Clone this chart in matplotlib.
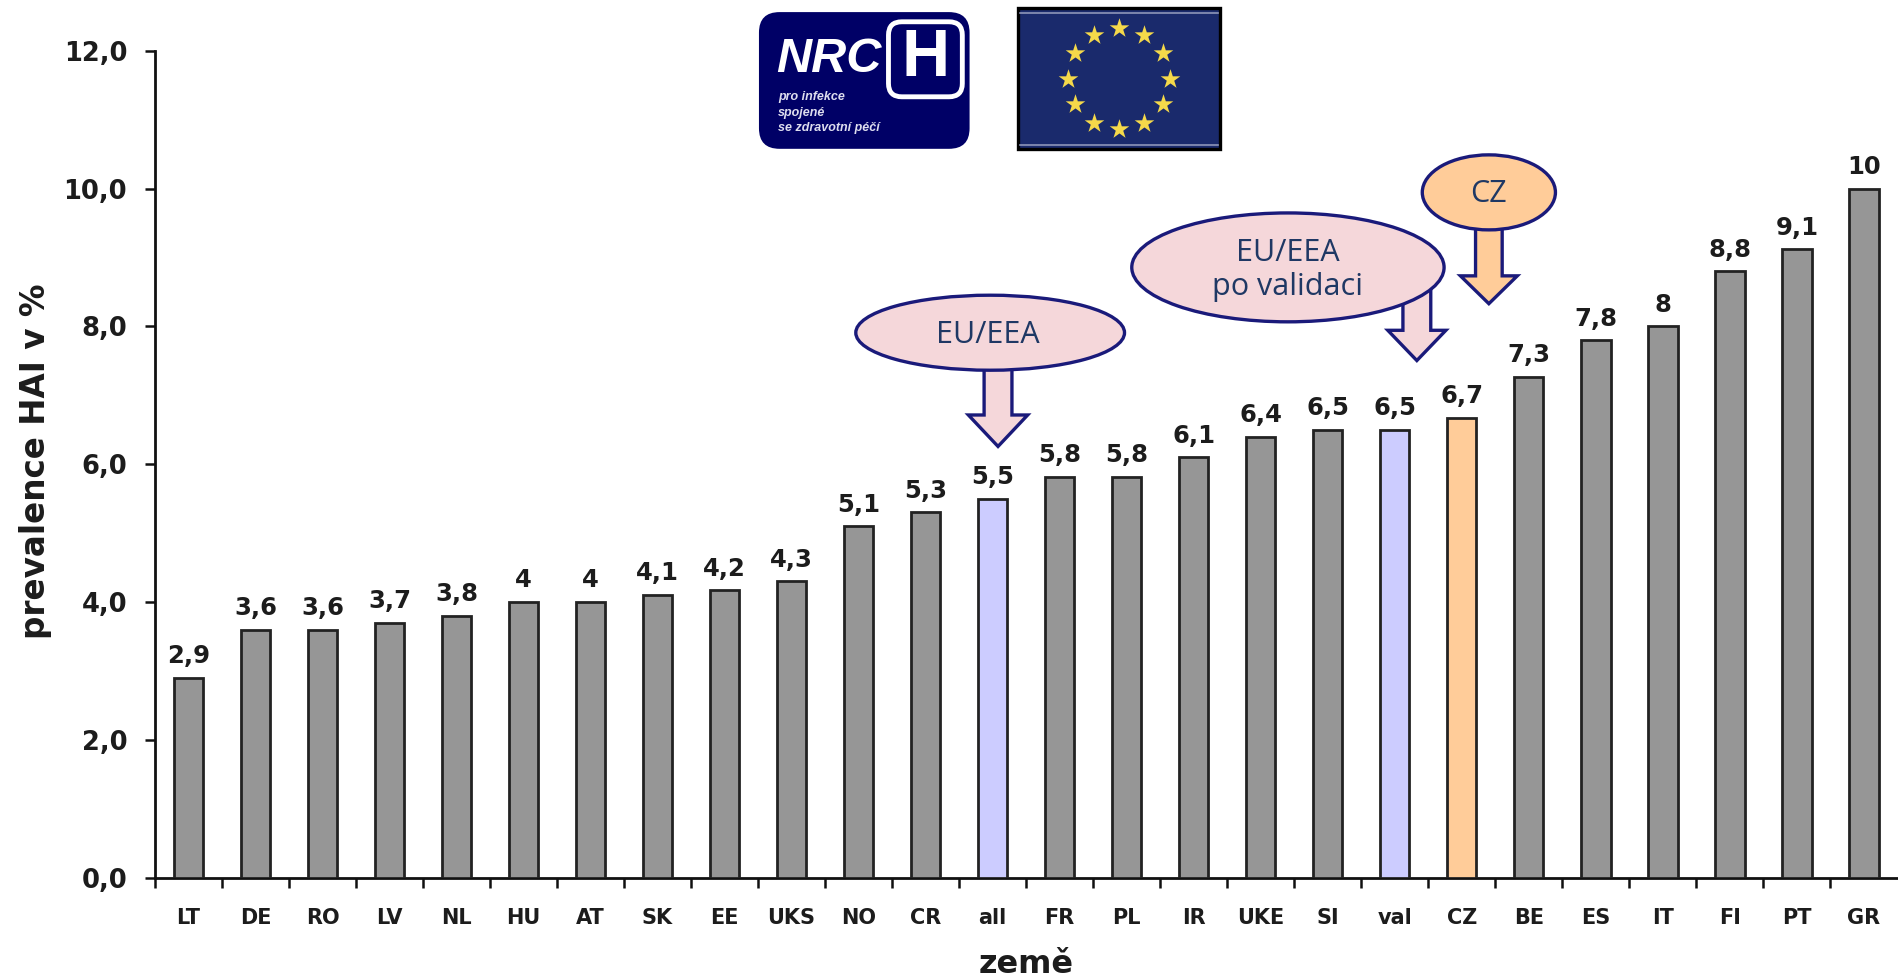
import numpy as np
import matplotlib
matplotlib.use("Agg")
import matplotlib.pyplot as plt
from matplotlib.patches import Ellipse, FancyBboxPatch, Polygon, Rectangle

categories = ["LT","DE","RO","LV","NL","HU","AT","SK","EE","UKS","NO","CR","all","FR","PL","IR","UKE","SI","val","CZ","BE","ES","IT","FI","PT","GR"]
values = [2.9,3.6,3.6,3.7,3.8,4.0,4.0,4.1,4.17,4.3,5.1,5.3,5.5,5.82,5.82,6.1,6.4,6.5,6.5,6.67,7.27,7.8,8.0,8.8,9.12,10.0]
value_labels = ["2,9","3,6","3,6","3,7","3,8","4","4","4,1","4,2","4,3","5,1","5,3","5,5","5,8","5,8","6,1","6,4","6,5","6,5","6,7","7,3","7,8","8","8,8","9,1","10"]
highlight = {"all": "#CCCCFF", "val": "#CCCCFF", "CZ": "#FFCC99"}
base_color = "#969696"
yticks = [0, 2, 4, 6, 8, 10, 12]

W, H = 1898, 980
fig = plt.figure(figsize=(W/100, H/100), dpi=100, facecolor="white")
S = 1898/1568
ink = "#1c1c1c"

left, right, top, bottom = 128*S, 1568*S, 42*S, 725*S
ax = fig.add_axes([left/W, 1-bottom/H, (right-left)/W, (bottom-top)/H])
x = np.arange(len(categories))
colors = [highlight.get(c, base_color) for c in categories]
ax.bar(x, values, width=0.44, color=colors, edgecolor="#222222", linewidth=2.0, zorder=3)
ax.set_xlim(-0.5, len(categories)-0.5+0.01)
ax.set_ylim(0, 12)
ax.set_yticks(yticks)
ax.set_yticklabels([f"{v:.1f}".replace(".", ",") for v in yticks], fontsize=18.5, fontweight="bold", color=ink)
ax.set_xticks(x-0.5, minor=False)
ax.set_xticklabels([])
ax.tick_params(axis="x", length=7, width=1.8, color="#111111")
ax.tick_params(axis="y", length=7, width=1.8, color="#111111", pad=13)
for s in ("top", "right"):
    ax.spines[s].set_visible(False)
for s in ("left", "bottom"):
    ax.spines[s].set_linewidth(2.0)
    ax.spines[s].set_color("#111111")
tf = ax.get_xaxis_transform()
for xi, c in zip(x, categories):
    ax.text(xi, -0.049, c, transform=tf, ha="center", va="center", fontsize=15, fontweight="bold", color=ink)
for xi, v, l in zip(x, values, value_labels):
    ax.text(xi, v+0.14, l, ha="center", va="bottom", fontsize=17.5, fontweight="bold", color=ink)
ax.set_ylabel("prevalence HAI v %", fontsize=23.5, fontweight="bold", color=ink, va="center")
ax.yaxis.set_label_coords(-(128-29)/(1568-128), 1-(381-42)/(725-42))
ax.set_xlabel("země", fontsize=23, fontweight="bold", color=ink, va="center")
ax.xaxis.set_label_coords((848-128)/(1568-128), -(797-725)/(725-42))

# overlay in reference pixel units
ov = fig.add_axes([0, 0, 1, 1], facecolor="none")
ov.set_xlim(0, 1568); ov.set_ylim(810, 0); ov.axis("off")
navy = "#1A1A7A"
pink = "#F5D7DA"
orange = "#FFCC99"
txt = "#1F3864"

def arrow(xc, top_, head, tip, sw, hw, fc, z):
    pts = [(xc-sw,top_),(xc+sw,top_),(xc+sw,head),(xc+hw,head),(xc,tip),(xc-hw,head),(xc-sw,head)]
    ov.add_patch(Polygon(pts, closed=True, fc=fc, ec=navy, lw=2.4, zorder=z))

arrow(824.5, 300, 343, 369, 11.5, 24.5, pink, 2)
arrow(1170.5, 240, 273, 298, 11.5, 24, pink, 2)
arrow(1230, 185, 228, 251, 11, 23.5, orange, 2)
for (cx, cy, w, h, fc) in [(818,275,222,62,pink),(1064,221,258,90,pink),(1230,159,110,62,orange)]:
    ov.add_patch(Ellipse((cx,cy), w, h, fc=fc, ec=navy, lw=2.4, zorder=3))
tk = dict(ha="center", va="center", color=txt, fontsize=22, family="Open Sans", zorder=4)
ov.text(816, 277, "EU/EEA", **tk)
ov.text(1064, 223, "EU/EEA\npo validaci", linespacing=1.2, **tk)
ov.text(1230, 160, "CZ", **tk)

# NRC logo
ov.add_patch(FancyBboxPatch((627,10),174,113, boxstyle="round,pad=0,rounding_size=17", mutation_scale=1, fc="#000066", ec="none", zorder=1))
ov.add_patch(FancyBboxPatch((734,18),61,62, boxstyle="round,pad=0,rounding_size=11", mutation_scale=1, fc="#000066", ec="white", lw=3.5, zorder=2))
ov.text(764.5, 49, "H", color="white", fontsize=48, fontweight="bold", family="Liberation Sans", ha="center", va="center", zorder=3)
ov.text(641, 49, "NRC", color="white", fontsize=35, fontweight="bold", style="italic", family="Liberation Sans", ha="left", va="center", zorder=3)
for yy, s in zip((80,93,106), ("pro infekce","spojené","se zdravotní péčí")):
    ov.text(643, yy, s, color="#DDDDEE", fontsize=9, fontweight="bold", style="italic", family="Liberation Sans", ha="left", va="center", zorder=3)

# EU flag
ov.add_patch(Rectangle((841,7),167,116, fc="#1A2A6C", ec="black", lw=2.4, zorder=1))
ov.plot([843,1006],[10.5,10.5], color="#8E95B8", lw=1.2, zorder=2)
ov.plot([843,1006],[119.5,119.5], color="#8E95B8", lw=1.2, zorder=2)
ang = np.deg2rad(np.arange(0,360,30)-90)
ov.scatter(924.5+42*np.cos(ang), 65+42*np.sin(ang), marker="*", s=220, c="#F5D94A", linewidths=0, zorder=2)

fig.savefig("out.png", dpi=100)
